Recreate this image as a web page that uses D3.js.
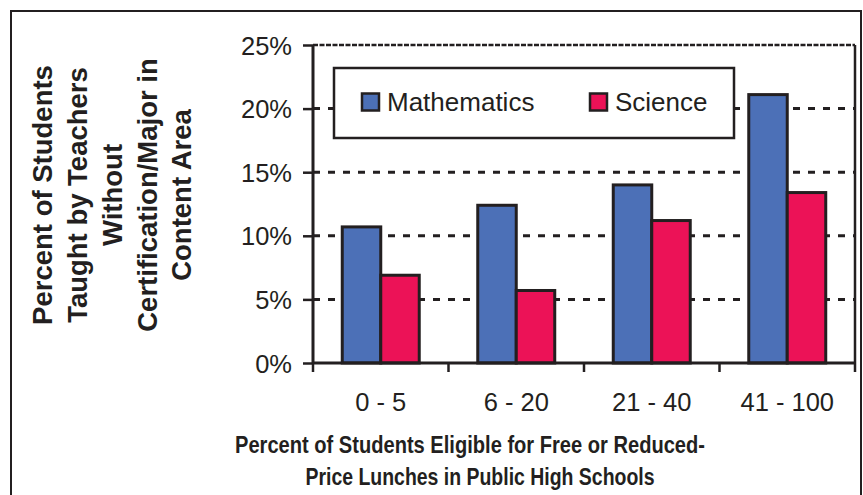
<!DOCTYPE html>
<html>
<head>
<meta charset="utf-8">
<script src="https://cdn.jsdelivr.net/npm/d3@7"></script>
<style>
  html, body { margin: 0; padding: 0; background: #fff; }
  svg { display: block; }
  text { font-family: "Liberation Sans", Arial, Helvetica, sans-serif; fill: #231f20; }
</style>
</head>
<body>
<svg id="chart" width="863" height="495"></svg>
<script>
const categories = ["0 - 5", "6 - 20", "21 - 40", "41 - 100"];
const seriesNames = ["Mathematics", "Science"];
const mathValues = [10.7, 12.4, 14.0, 21.1];
const scienceValues = [6.9, 5.7, 11.2, 13.4];
const yTicks = [0, 5, 10, 15, 20, 25];
const yTitleLines = ["Percent of Students", "Taught by Teachers", "Without", "Certification/Major in", "Content Area"];
const xTitleLines = ["Percent of Students Eligible for Free or Reduced-", "Price Lunches in Public High Schools"];
const colors = ["#4c70b7", "#ec1257"];

const ink = "#231f20";
const svg = d3.select("#chart");

// outer frame
svg.append("rect").attr("x", 11).attr("y", 11).attr("width", 850).attr("height", 520)
  .attr("fill", "none").attr("stroke", ink).attr("stroke-width", 2);

const pLeft = 313, pRight = 855, pTop = 45, pBottom = 363;
const x = d3.scaleBand().domain(categories).range([pLeft, pRight]).paddingInner(0).paddingOuter(0);
const xs = d3.scaleBand().domain(seriesNames).range([0, x.bandwidth()]).paddingInner(0).paddingOuter(0.76);
const y = d3.scaleLinear().domain([0, 25]).range([pBottom, pTop]);

// gridlines
svg.append("g").selectAll("line").data(yTicks.filter(t => t > 0 && t < 25)).join("line")
  .attr("x1", pLeft).attr("x2", pRight).attr("y1", d => y(d)).attr("y2", d => y(d))
  .attr("stroke", ink).attr("stroke-width", 3).attr("stroke-dasharray", "7,8");

// top border
svg.append("line").attr("x1", pLeft).attr("x2", pRight).attr("y1", y(25)).attr("y2", y(25))
  .attr("stroke", ink).attr("stroke-width", 2.5).attr("stroke-dasharray", "5,1.5");
// right border
svg.append("line").attr("x1", pRight).attr("x2", pRight).attr("y1", y(25)).attr("y2", pBottom + 9)
  .attr("stroke", ink).attr("stroke-width", 2.5);

// legend
const lg = svg.append("g");
lg.append("rect").attr("x", 334).attr("y", 68).attr("width", 400).attr("height", 70)
  .attr("fill", "#fff").attr("stroke", ink).attr("stroke-width", 2.5);
const legendX = [362, 590];
seriesNames.forEach((s, i) => {
  lg.append("rect").attr("x", legendX[i]).attr("y", 93.5).attr("width", 17).attr("height", 17)
    .attr("fill", colors[i]).attr("stroke", ink).attr("stroke-width", 2.5);
  lg.append("text").attr("x", legendX[i] + 25).attr("y", 111).attr("font-size", 26).text(s);
});

// bars
const data = categories.map((c, i) => ({ c, vals: [mathValues[i], scienceValues[i]] }));
const groups = svg.append("g").selectAll("g").data(data).join("g")
  .attr("transform", d => `translate(${x(d.c)},0)`);
groups.selectAll("rect").data(d => d.vals.map((v, i) => ({ s: seriesNames[i], v, i }))).join("rect")
  .attr("x", d => xs(d.s)).attr("width", xs.bandwidth())
  .attr("y", d => y(d.v)).attr("height", d => y(0) - y(d.v))
  .attr("fill", d => colors[d.i]).attr("stroke", ink).attr("stroke-width", 3);

// y axis
const yAxis = svg.append("g").attr("transform", `translate(${pLeft},0)`)
  .call(d3.axisLeft(y).tickValues(yTicks).tickFormat(d => d + "%").tickSize(10).tickPadding(11));
yAxis.select(".domain").attr("stroke", ink).attr("stroke-width", 3).attr("d", `M0,${pTop}V${pBottom}`);
yAxis.selectAll(".tick line").attr("stroke", ink).attr("stroke-width", 2.5);
yAxis.selectAll(".tick text").attr("font-size", 25.5).attr("fill", ink)
  .attr("font-family", "Liberation Sans, Arial, sans-serif").attr("dy", "0.36em");

// x axis
const xAxis = svg.append("g").attr("transform", `translate(0,${pBottom})`)
  .call(d3.axisBottom(x).tickSize(0).tickPadding(30));
xAxis.select(".domain").attr("stroke", ink).attr("stroke-width", 3).attr("d", `M${pLeft},0H${pRight}`);
xAxis.selectAll(".tick text").attr("font-size", 25.5).attr("fill", ink)
  .attr("font-family", "Liberation Sans, Arial, sans-serif").attr("dy", "0.71em");
// category boundary ticks
svg.append("g").selectAll("line").data(categories).join("line")
  .attr("x1", d => x(d)).attr("x2", d => x(d)).attr("y1", pBottom).attr("y2", pBottom + 9)
  .attr("stroke", ink).attr("stroke-width", 2.5);

// y title
const yt = svg.append("g");
const yLineX = [42, 77, 112, 147, 181];
yTitleLines.forEach((t, i) => {
  yt.append("text").attr("transform", `translate(${yLineX[i]},195) rotate(-90)`)
    .attr("text-anchor", "middle").attr("dy", "0.36em")
    .attr("font-size", 27.5).attr("font-weight", "bold").text(t);
});

// x title
const xTitleY = [453, 485];
const xTitleX = [470, 480];
const xTitleW = [470, 349];
xTitleLines.forEach((t, i) => {
  svg.append("text").attr("x", xTitleX[i]).attr("y", xTitleY[i]).attr("text-anchor", "middle")
    .attr("font-size", 24.5).attr("font-weight", "bold")
    .attr("textLength", xTitleW[i]).attr("lengthAdjust", "spacingAndGlyphs").text(t);
});
</script>
</body>
</html>
